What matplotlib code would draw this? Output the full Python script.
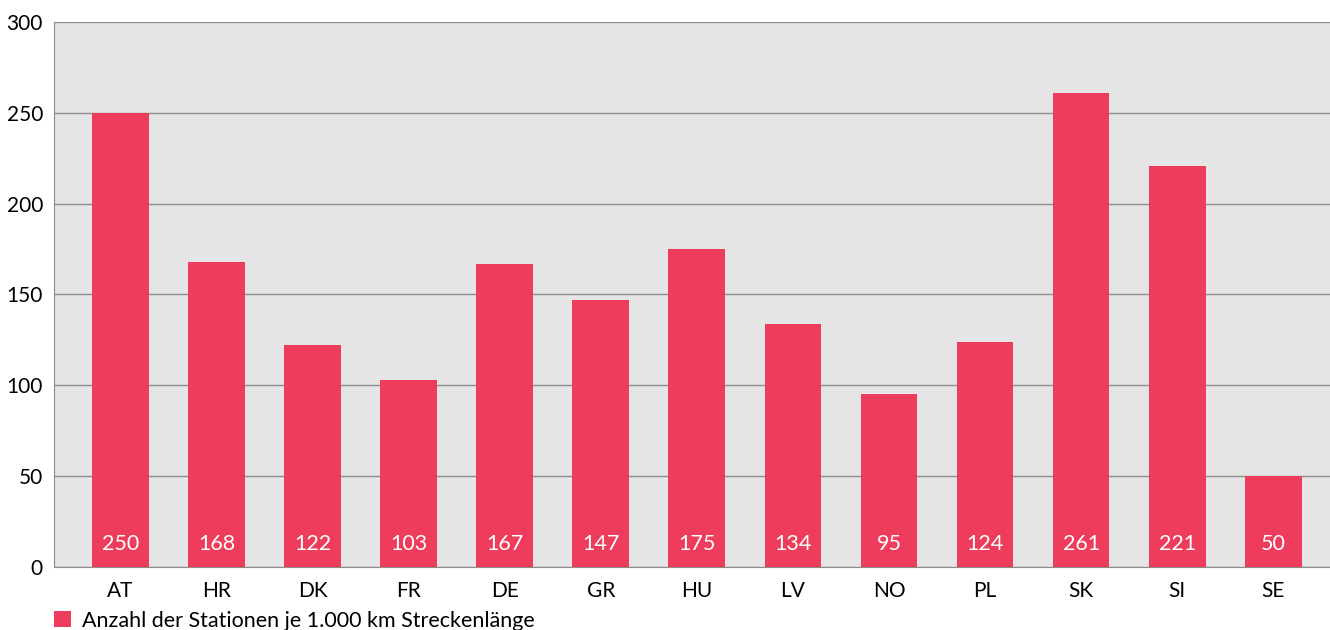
import matplotlib.pyplot as plt
import numpy as np

# Daten
laender = ['AT', 'HR', 'DK', 'FR', 'DE', 'GR', 'HU', 'LV', 'NO', 'PL', 'SK', 'SI', 'SE']
stationen = [250, 168, 122, 103, 167, 147, 175, 134, 95, 124, 261, 221, 50]
legende = 'Anzahl der Stationen je 1.000 km Streckenlänge'

plt.rcParams['font.family'] = ['Lato', 'DejaVu Sans']

fig = plt.figure(figsize=(13.3, 6.3), dpi=100)
ax = fig.add_axes([54 / 1330, 1 - 567 / 630, 1 - 54 / 1330, 545 / 630])
ax.set_facecolor('#e5e5e5')

x = np.arange(len(laender))
bars = ax.bar(x, stationen, width=0.59, color='#ee3d5c', zorder=3, label=legende)

# Werte unten in den Balken
for xi, v in zip(x, stationen):
    ax.text(xi, 12.5, str(v), ha='center', va='center', color='white', fontsize=15.5, zorder=4)

ax.set_ylim(0, 300)
ax.set_xlim(-0.69, 12.59)
ax.set_yticks(np.arange(0, 301, 50))
ax.yaxis.grid(True, color='#8c8c8c', linewidth=1, zorder=1)
ax.set_xticks(x)
ax.set_xticklabels(laender)
ax.tick_params(axis='both', length=0, labelsize=15, colors='black')
ax.tick_params(axis='x', pad=10)
ax.tick_params(axis='y', pad=8)

for s in ['top', 'right']:
    ax.spines[s].set_visible(False)
ax.spines['left'].set_color('#8c8c8c')
ax.spines['bottom'].set_color('#8c8c8c')

ax.legend(loc='upper left', bbox_to_anchor=(-0.0, -0.08), frameon=False, fontsize=15.5,
          handlelength=0.8, handleheight=0.8, handletextpad=0.5, borderaxespad=0, borderpad=0)

fig.savefig('out.png', dpi=100)
